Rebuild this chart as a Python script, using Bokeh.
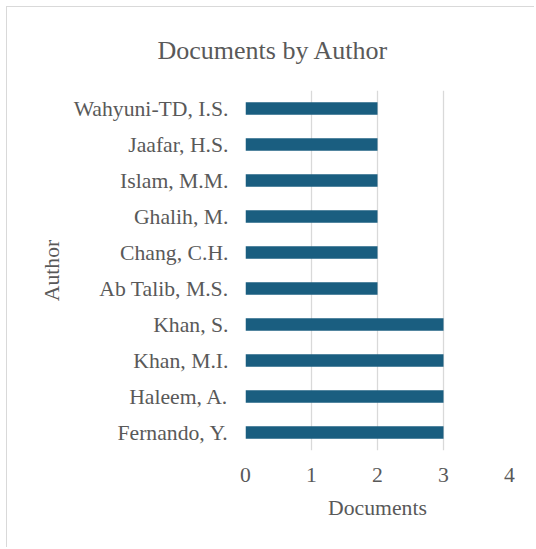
from bokeh.plotting import figure
from bokeh.models import FactorRange, Range1d, FixedTicker, ColumnDataSource
from bokeh.embed import file_html
from bokeh.resources import INLINE

# Data (bottom to top)
authors = ["Fernando, Y.", "Haleem, A.", "Khan, M.I.", "Khan, S.",
           "Ab Talib, M.S.", "Chang, C.H.", "Ghalih, M.", "Islam, M.M.",
           "Jaafar, H.S.", "Wahyuni-TD, I.S."]
documents = [3, 3, 3, 3, 2, 2, 2, 2, 2, 2]
x_ticks = [0, 1, 2, 3, 4]
title_text = "Documents by Author"

FONT = "Liberation Serif"
TEXT = "#595959"
BAR = "#1a5e80"
GRID = "#d9d9d9"

source = ColumnDataSource(dict(author=authors, docs=documents))

p = figure(width=528, height=541,
           y_range=FactorRange(*authors), x_range=Range1d(0, 4),
           output_backend="svg", toolbar_location=None,
           min_border_left=238, min_border_right=26,
           min_border_top=83, min_border_bottom=98)

p.hbar(y="author", right="docs", left=0, height=0.35, source=source,
       fill_color=BAR, line_color=None)

p.title.text = title_text
p.title.text_font = FONT
p.title.text_font_size = "26px"
p.title.text_font_style = "normal"
p.title.text_color = TEXT
p.title.align = "left"
p.title.offset = -88
p.title.standoff = 51

p.outline_line_color = None
p.xgrid.ticker = FixedTicker(ticks=x_ticks)
p.xgrid.grid_line_color = GRID
p.xgrid.grid_line_width = 1.3
p.ygrid.grid_line_color = None

p.xaxis.ticker = FixedTicker(ticks=x_ticks)
for ax in (p.xaxis, p.yaxis):
    ax.axis_line_color = None
    ax.major_tick_line_color = None
    ax.minor_tick_line_color = None
    ax.major_label_text_font = FONT
    ax.major_label_text_font_size = "21.7px"
    ax.major_label_text_color = TEXT
    ax.axis_label_text_font = FONT
    ax.axis_label_text_font_size = "21.7px"
    ax.axis_label_text_font_style = "normal"
    ax.axis_label_text_color = TEXT

p.xaxis.axis_label = "Documents"
p.yaxis.axis_label = "Author"
p.xaxis.major_label_standoff = 11
p.xaxis.axis_label_standoff = 11
p.yaxis.major_label_standoff = 11
p.yaxis.axis_label_standoff = 7

p.styles = {"border-top": "1px solid #d9d9d9", "border-left": "1px solid #d9d9d9",
            "margin-left": "6px", "margin-top": "6px"}

open("out.html", "w").write(file_html(p, INLINE))
